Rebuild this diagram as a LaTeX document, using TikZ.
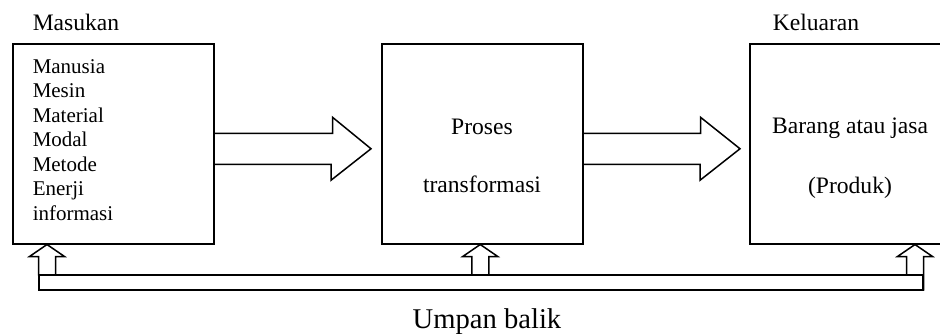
\documentclass[tikz,border=0pt]{standalone}
\usepackage{fontspec}
\setmainfont{Liberation Serif}
\usetikzlibrary{calc}
\begin{document}
\begin{tikzpicture}[x=1pt,y=-1pt,line width=1.5pt,line join=miter,
  box/.style={draw,minimum width=201pt,minimum height=200pt,inner sep=0pt,anchor=north west},
  lbl/.style={anchor=base west,inner sep=0pt,font=\fontsize{23.6}{28}\selectfont},
  mid/.style={anchor=base,inner sep=0pt,font=\fontsize{23.6}{28}\selectfont},
  item/.style={anchor=base west,inner sep=0pt,font=\fontsize{21}{24.5}\selectfont},
  fbtext/.style={anchor=base,inner sep=0pt,font=\fontsize{28.6}{34}\selectfont}]
\useasboundingbox (0,0) rectangle (940,333);
\clip (0,0) rectangle (940,333);
% boxes
\node[box] (b1) at (12,43) {};
\node[box] (b2) at (381,43) {};
\node[box] (b3) at (749,43) {};
% labels
\node[lbl] (masukan) at (32,30) {Masukan};
\node[lbl] (keluaran) at (772,30) {Keluaran};
\foreach \t [count=\i from 0] in {Manusia,Mesin,Material,Modal,Metode,Enerji,informasi}
  \node[item] (in\i) at (32,73+24.5*\i) {\t};
\node[mid] (p1) at (482,134) {Proses};
\node[mid] (p2) at (482,192) {transformasi};
\node[mid] (o1) at (850,133) {Barang atau jasa};
\node[mid] (o2) at (850,193) {(Produk)};
% block arrows
\draw ($(b1.east)+(0,-10.5)$) -- ++(118,0) -- ++(0,-16) -- ($(b2.west)+(-10,5)$)
  -- ++(-40,31.5) -- ++(0,-16) -- ($(b1.east)+(0,20.5)$);
\draw ($(b2.east)+(0,-10.5)$) -- ++(117,0) -- ++(0,-16) -- ($(b3.west)+(-9,5)$)
  -- ++(-40,31.5) -- ++(0,-16) -- ($(b2.east)+(0,20.5)$);
% feedback bar
\node[draw,minimum width=884pt,minimum height=15pt,inner sep=0pt,anchor=north west] (fb) at (38,274) {};
\node[fbtext] (umpan) at (487,328) {Umpan balik};
\coordinate (t1) at ($(b1.south west)+(35,0)$);
\coordinate (t2) at ($(b2.south)+(-2,0)$);
\coordinate (t3) at ($(b3.south west)+(166,0)$);
\draw ($(t1)+(-8.5,31)$) -- ++(0,-19) -- ++(-9,0) -- (t1) -- ($(t1)+(17.5,12)$) -- ++(-9,0) -- ++(0,19);
\draw ($(t2)+(-8.5,31)$) -- ++(0,-19) -- ++(-9,0) -- (t2) -- ($(t2)+(17.5,12)$) -- ++(-9,0) -- ++(0,19);
\draw ($(t3)+(-8.5,31)$) -- ++(0,-19) -- ++(-9,0) -- (t3) -- ($(t3)+(17.5,12)$) -- ++(-9,0) -- ++(0,34);
\end{tikzpicture}
\end{document}
